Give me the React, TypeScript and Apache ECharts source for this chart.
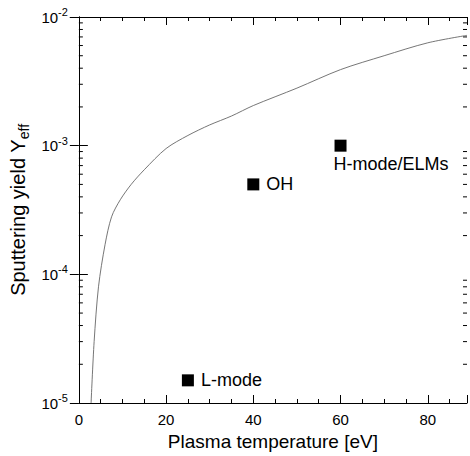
import React, { useEffect, useRef } from "react";
import * as echarts from "echarts";

// Curve: sputtering yield vs plasma temperature
const curveT = [2.8, 3.5, 4.5, 6, 7.5, 9.5, 12, 15, 20, 25, 30, 35, 40, 50, 60, 70, 80, 89];
const curveY = [1e-5, 3e-5, 8e-5, 1.7e-4, 2.8e-4, 3.8e-4, 5e-4, 6.5e-4, 9.5e-4, 1.2e-3, 1.45e-3, 1.7e-3, 2.05e-3, 2.8e-3, 3.9e-3, 5e-3, 6.3e-3, 7.2e-3];

// Measured points
const pointNames = ["L-mode", "OH", "H-mode/ELMs"];
const pointT = [25, 40, 60];
const pointY = [1.5e-5, 5e-4, 1e-3];

const X_MIN = 0;
const X_MAX = 89;
const Y_MIN = 1e-5;
const Y_MAX = 1e-2;
const minorYTicks: number[] = [];
for (let k = -5; k <= -3; k++) {
  for (let m = 2; m <= 9; m++) minorYTicks.push(m * Math.pow(10, k));
}

const FONT = "Liberation Sans, Arial, Helvetica, sans-serif";

export default function App() {
  const ref = useRef<HTMLDivElement>(null);
  useEffect(() => {
    if (!ref.current) return;
    const chart = echarts.init(ref.current, undefined, { renderer: "svg" });
    const axisLine = { show: true, lineStyle: { color: "#000", width: 1 } };
    const option: any = {
      animation: false,
      backgroundColor: "#fff",
      textStyle: { fontFamily: FONT },
      grid: { left: 77, right: 3, top: 17, bottom: 46 },
      xAxis: [
        {
          type: "value",
          min: X_MIN,
          max: X_MAX,
          interval: 20,
          axisLine,
          axisTick: { inside: true, length: 8, lineStyle: { color: "#000" } },
          minorTick: { show: true, splitNumber: 4, length: 4, lineStyle: { color: "#000" } },
          splitLine: { show: false },
          axisLabel: { color: "#000", fontSize: 15, margin: 9, fontFamily: FONT, showMaxLabel: false },
          name: "Plasma temperature [eV]",
          nameLocation: "middle",
          nameGap: 29,
          nameTextStyle: { color: "#000", fontSize: 19, fontFamily: FONT },
        },
        {
          type: "value",
          position: "top",
          min: X_MIN,
          max: X_MAX,
          interval: 20,
          axisLine,
          axisTick: { inside: true, length: 8, lineStyle: { color: "#000" } },
          minorTick: { show: true, splitNumber: 4, length: 4, lineStyle: { color: "#000" } },
          splitLine: { show: false },
          axisLabel: { show: false },
        },
      ],
      yAxis: [
        {
          type: "log",
          logBase: 10,
          min: Y_MIN,
          max: Y_MAX,
          axisLine,
          axisTick: { inside: true, length: 9, lineStyle: { color: "#000" } },
          splitLine: { show: false },
          axisLabel: {
            color: "#000",
            margin: 11,
            formatter: (v: number) => `{b|10}{s|${Math.round(Math.log10(v))}}`,
            rich: {
              b: { fontSize: 15, fontFamily: FONT, color: "#000" },
              s: { fontSize: 11, fontFamily: FONT, color: "#000", padding: [0, 0, 10, 0] },
            },
          },
          name: "Sputtering yield Y{sub|eff}",
          nameLocation: "middle",
          nameRotate: 90,
          nameGap: 45,
          nameTextStyle: {
            color: "#000",
            fontSize: 20,
            fontFamily: FONT,
            rich: { sub: { fontSize: 14, fontFamily: FONT, color: "#000", padding: [11, 0, 0, 0] } },
          },
        },
        {
          type: "log",
          logBase: 10,
          position: "right",
          min: Y_MIN,
          max: Y_MAX,
          axisLine,
          axisTick: { inside: true, length: 9, lineStyle: { color: "#000" } },
          splitLine: { show: false },
          axisLabel: { show: false },
        },
      ],
      series: [
        {
          type: "custom",
          xAxisIndex: 0,
          yAxisIndex: 0,
          silent: true,
          data: minorYTicks.map((v) => [X_MIN, v]),
          encode: { x: 0, y: 1 },
          renderItem: (_p: any, api: any) => {
            const v = api.value(1);
            const l = api.coord([X_MIN, v]);
            const r = api.coord([X_MAX, v]);
            return {
              type: "group",
              children: [
                { type: "line", shape: { x1: l[0], y1: l[1], x2: l[0] + 4, y2: l[1] }, style: { stroke: "#000", lineWidth: 1 } },
                { type: "line", shape: { x1: r[0], y1: r[1], x2: r[0] - 4, y2: r[1] }, style: { stroke: "#000", lineWidth: 1 } },
              ],
            };
          },
        },
        {
          type: "line",
          xAxisIndex: 0,
          yAxisIndex: 0,
          data: curveT.map((t, i) => [t, curveY[i]]),
          showSymbol: false,
          smooth: 0.3,
          lineStyle: { color: "#666", width: 0.9 },
        },
        {
          type: "scatter",
          xAxisIndex: 0,
          yAxisIndex: 0,
          symbol: "rect",
          symbolSize: 12,
          itemStyle: { color: "#000", opacity: 1 },
          data: pointT.map((t, i) => ({
            value: [t, pointY[i]],
            label:
              i === 2
                ? { show: true, formatter: pointNames[i], position: [-1, 15], align: "left", verticalAlign: "top", color: "#000", fontSize: 18, fontFamily: FONT }
                : { show: true, formatter: pointNames[i], position: "right", distance: 7, color: "#000", fontSize: 18, fontFamily: FONT },
          })),
        },
      ],
    };
    chart.setOption(option);
    return () => chart.dispose();
  }, []);
  return <div ref={ref} style={{ width: 470, height: 456, position: "absolute", left: 0, top: 0 }} />;
}
